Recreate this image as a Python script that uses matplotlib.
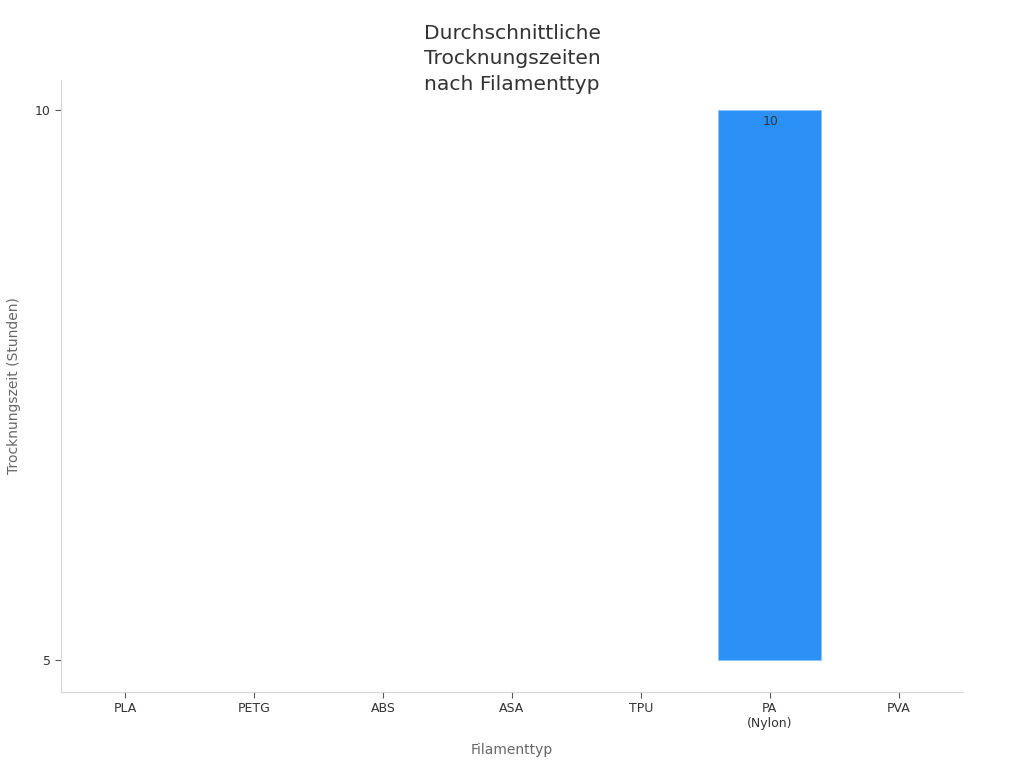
import numpy as np
import matplotlib.pyplot as plt

# Trocknungszeiten je Filamenttyp (Stunden), nur PA hat einen Bereich im sichtbaren Achsenbereich
categories = ['PLA', 'PETG', 'ABS', 'ASA', 'TPU', 'PA\n(Nylon)', 'PVA']
low = [np.nan, np.nan, np.nan, np.nan, np.nan, 5, np.nan]
high = [np.nan, np.nan, np.nan, np.nan, np.nan, 10, np.nan]

fig = plt.figure(figsize=(10.24, 7.68), dpi=100)
ax = fig.add_axes([61/1024, 1 - 692/768, 902/1024, 612/768])

x = np.arange(len(categories))
heights = np.array(high) - np.array(low)
bars = ax.bar(x, heights, bottom=low, width=0.8, color='#2b91f7',
              edgecolor='#8cc4fa', linewidth=0.6)

for xi, h in zip(x, high):
    if not np.isnan(h):
        ax.text(xi + 0.01, h - 0.1, f'{h:g}', ha='center', va='center',
                fontsize=9, color='#333333')

ax.set_xlim(-0.5, len(categories) - 0.5)
ax.set_ylim(4.709, 10.273)
ax.set_yticks([5, 10])
ax.set_xticks(x)
ax.set_xticklabels(categories)

for s in ['top', 'right']:
    ax.spines[s].set_visible(False)
for s in ['left', 'bottom']:
    ax.spines[s].set_color('#d6d6d6')
ax.tick_params(axis='both', colors='#333333', labelsize=9, length=4, width=0.8)
ax.tick_params(axis='both', color='#555555')

ax.set_xlabel('Filamenttyp', fontsize=10, color='#666666', labelpad=9)
ax.set_ylabel('Trocknungszeit (Stunden)', fontsize=10, color='#666666', labelpad=10)

fig.text(0.5, 1 - 59/768, 'Durchschnittliche\nTrocknungszeiten\nnach Filamenttyp',
         ha='center', va='center', fontsize=14.6, color='#333333', linespacing=1.42)

plt.savefig('out.png', dpi=100)
